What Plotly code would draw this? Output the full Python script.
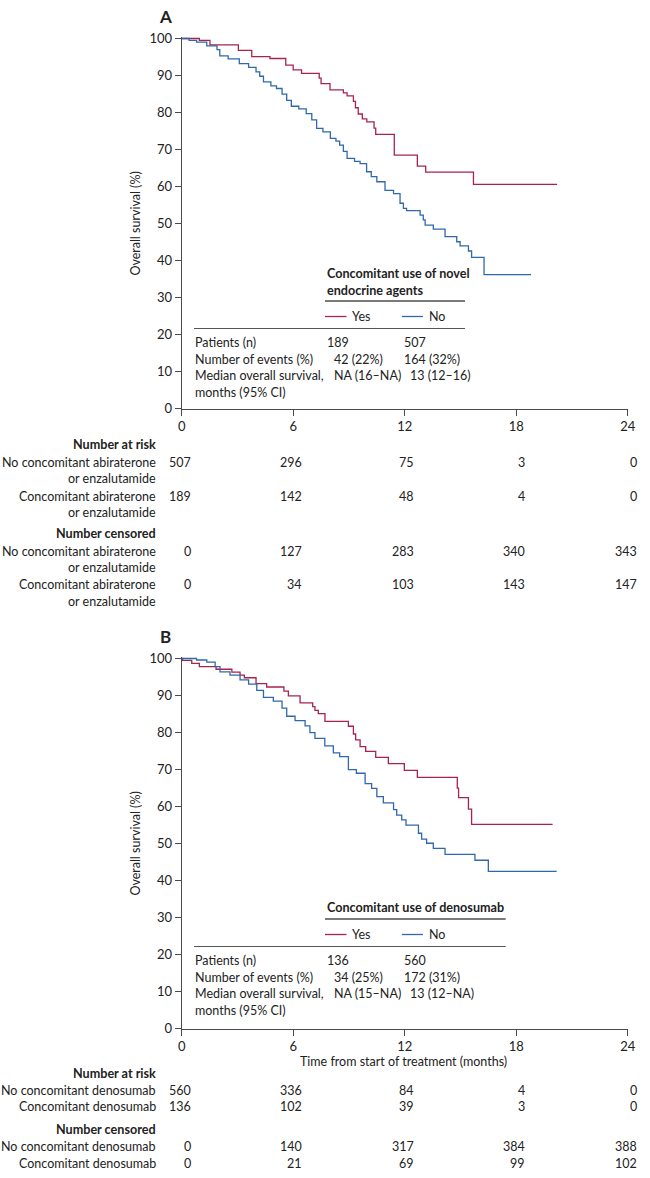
import plotly.graph_objects as go

W, H = 650, 1178
FONT = "Lato"
TXT = "#222222"
RED = "#a8234d"
BLUE = "#2f68ad"
FS = 12.5

# ---------------- data ----------------
tick_months = [0, 6, 12, 18, 24]
y_ticks = [0, 10, 20, 30, 40, 50, 60, 70, 80, 90, 100]

# Panel A
a_yes_t = [0, 0.95, 1.52, 3.05, 3.77, 4.75, 5.6, 6.0, 6.45, 7.4, 7.5, 7.98, 8.7, 8.9, 9.24, 9.35, 9.5,
           9.72, 9.96, 10.35, 10.44, 11.44, 12.68, 13.13, 15.7, 20.2]
a_yes_s = [100, 99.5, 98.3, 96.8, 95.1, 94.6, 92.8, 91.5, 90.6, 89.3, 87.8, 86.1, 85.3, 84.5, 83.0, 81.3,
           79.6, 78.3, 77.5, 75.8, 74.1, 68.5, 65.5, 63.9, 60.6, 60.6]
a_no_t = [0, 0.4, 0.8, 1.35, 1.9, 2.05, 2.5, 3.1, 3.6, 4.0, 4.2, 4.4, 4.8, 5.1, 5.4, 5.65, 5.9, 6.3, 6.7,
          7.0, 7.26, 7.6, 8.0, 8.3, 8.5, 8.7, 8.9, 9.3, 9.6, 9.95, 10.2, 10.5, 10.94, 11.4, 11.75, 11.93,
          12.1, 12.83, 13.0, 13.1, 13.54, 14.17, 14.8, 14.98, 15.43, 15.6, 16.27, 18.8]
a_no_s = [100, 99.5, 99, 98, 97, 95.3, 94.5, 93.2, 92.2, 91, 89.8, 88.3, 87.2, 86.5, 85, 83.3, 81.7, 81,
          79.7, 78, 75.7, 74.8, 73, 72.3, 71.2, 69.5, 67.6, 66.8, 66.2, 64, 62.7, 61.3, 59, 58.1, 55.5,
          54.1, 53.5, 52.3, 51.0, 49.6, 48.5, 46.5, 45.1, 44.0, 42.6, 40.9, 36.2, 36.2]

# Panel B
b_yes_t = [0, 0.05, 0.54, 0.95, 1.85, 2.7, 3.14, 3.37, 4.0, 4.57, 5.5, 5.74, 6.37, 7.05, 7.17, 7.35, 7.71,
           8.97, 9.24, 9.36, 9.6, 9.9, 10.44, 11.12, 11.98, 12.68, 14.83, 14.9, 15.43, 15.6, 19.96]
b_yes_s = [100, 99.5, 98.7, 97.8, 97.1, 96.3, 95.5, 94.8, 93.2, 92.3, 91.2, 89.9, 88.0, 87.0, 86.0, 85.1,
           83.0, 81.7, 79.6, 78.0, 76.2, 74.9, 73.3, 71.6, 69.8, 67.9, 65.0, 62.4, 59.3, 55.2, 55.2]
b_no_t = [0, 0.8, 1.35, 1.8, 2.06, 2.6, 3.14, 3.6, 4.04, 4.4, 4.93, 5.4, 5.65, 6.1, 6.64, 6.9, 7.17, 7.7,
          8.16, 8.5, 8.97, 9.4, 9.87, 10.22, 10.5, 10.85, 11.4, 11.57, 11.84, 12.07, 12.74, 12.91, 13.18,
          13.54, 14.17, 15.78, 16.5, 20.18]
b_no_s = [100, 99.6, 99, 97.8, 96.4, 95.5, 94.2, 93.1, 91.4, 89.5, 88.5, 86.6, 84.4, 83.2, 81.8, 80.0,
          78.4, 76.4, 74.5, 73.5, 70.0, 69.0, 66.2, 64.9, 62.7, 61.0, 59.2, 57.7, 56.4, 55.0, 52.8, 51.2,
          50.1, 48.7, 47.1, 45.5, 42.5, 42.5]

# risk tables
a_risk_no = [507, 296, 75, 3, 0]
a_risk_yes = [189, 142, 48, 4, 0]
a_cens_no = [0, 127, 283, 340, 343]
a_cens_yes = [0, 34, 103, 143, 147]
b_risk_no = [560, 336, 84, 4, 0]
b_risk_yes = [136, 102, 39, 3, 0]
b_cens_no = [0, 140, 317, 384, 388]
b_cens_yes = [0, 21, 69, 99, 102]

a_label_no = ["No concomitant abiraterone", "or enzalutamide"]
a_label_yes = ["Concomitant abiraterone", "or enzalutamide"]
b_label_no = ["No concomitant denosumab"]
b_label_yes = ["Concomitant denosumab"]

a_header = ["Concomitant use of novel", "endocrine agents"]
b_header = ["Concomitant use of denosumab"]
stat_labels = ["Patients (n)", "Number of events (%)", "Median overall survival,", "months (95% CI)"]
a_stats_yes = ["189", "42 (22%)", "NA (16–NA)"]
a_stats_no = ["507", "164 (32%)", "13 (12–16)"]
b_stats_yes = ["136", "34 (25%)", "NA (15–NA)"]
b_stats_no = ["560", "172 (31%)", "13 (12–NA)"]

# ---------------- helpers ----------------
def px(x):
    return x / W

def py(y):
    return 1 - y / H

X0, X1 = 181.7, 627.7
A_Y0, B_Y0 = 408.7, 1028.7
UNIT = 3.702
YTOP = 100.5

fig = go.Figure()

def add_curve(t, s, color, xa, ya):
    fig.add_trace(go.Scatter(x=t, y=s, mode="lines", line=dict(color=color, width=1.3, shape="hv"),
                             xaxis=xa, yaxis=ya, hoverinfo="skip"))

add_curve(a_yes_t, a_yes_s, RED, "x", "y")
add_curve(a_no_t, a_no_s, BLUE, "x", "y")
add_curve(b_yes_t, b_yes_s, RED, "x2", "y2")
add_curve(b_no_t, b_no_s, BLUE, "x2", "y2")

axis_common = dict(showline=True, linecolor="#4a4a4a", linewidth=1, ticks="outside", ticklen=6,
                   tickcolor="#4a4a4a", showgrid=False, zeroline=False, automargin=False,
                   tickfont=dict(family=FONT, size=13, color=TXT))

annotations = []
shapes = []

def text(x, y, s, anchor="left", size=FS, bold=False, xref="paper", xshift=0):
    annotations.append(dict(x=x if xref != "paper" else px(x), y=py(y), xref=xref, yref="paper",
                            text=f"<b>{s}</b>" if bold else s, showarrow=False,
                            xanchor=anchor, yanchor="middle", xshift=xshift,
                            font=dict(family=FONT, size=size, color=TXT)))

def hline(x0, x1, y, color, width):
    shapes.append(dict(type="line", xref="paper", yref="paper", x0=px(x0), x1=px(x1),
                       y0=py(y), y1=py(y), line=dict(color=color, width=width)))

def panel(letter, y0, header, header_y, rule_right, stats_yes, stats_no):
    top = y0 - 100 * UNIT
    text(165, top - 22, letter, anchor="center", size=17, bold=True)
    annotations.append(dict(x=px(136), y=py(y0 - 50 * UNIT), xref="paper", yref="paper",
                            text="Overall survival (%)", showarrow=False, textangle=-90,
                            xanchor="center", yanchor="middle",
                            font=dict(family=FONT, size=FS, color=TXT)))
    for i, h in enumerate(header):
        text(325, header_y + i * 17, h, bold=True, size=12.6)
    rule1 = header_y + (len(header) - 1) * 17 + 11
    hline(325, rule_right, rule1, "#7a7a7a", 2)
    leg_y = rule1 + 15.5
    hline(325, 346.5, leg_y, RED, 1.3)
    text(350, leg_y, "Yes")
    hline(402, 423, leg_y, BLUE, 1.3)
    text(427, leg_y, "No")
    rule2 = leg_y + 12
    hline(194, rule_right, rule2, "#555555", 1)
    for i, lab in enumerate(stat_labels):
        text(193, rule2 + 14 + i * 16.6, lab)
    for i in range(3):
        yy = rule2 + 14 + i * 16.6
        text(325 if i == 0 else 331.5, yy, stats_yes[i])
        text(401.5 if i < 2 else 408, yy, stats_no[i])

panel("A", A_Y0, a_header, 273, 465, a_stats_yes, a_stats_no)
panel("B", B_Y0, b_header, 908, 505.7, b_stats_yes, b_stats_no)

def table(xref, rows):
    for y, lines, vals, bold in rows:
        for j, ln in enumerate(lines):
            text(158, y + j * 16.5, ln, anchor="right", bold=bold, size=12.6 if bold else FS)
        if vals is not None:
            for m, v in zip(tick_months, vals):
                text(m, y, str(v), anchor="right", xref=xref, xshift=11)

table("x", [
    (444, ["Number at risk"], None, True),
    (462, a_label_no, a_risk_no, False),
    (496, a_label_yes, a_risk_yes, False),
    (534, ["Number censored"], None, True),
    (551, a_label_no, a_cens_no, False),
    (584.5, a_label_yes, a_cens_yes, False),
])

table("x2", [
    (1073, ["Number at risk"], None, True),
    (1090, b_label_no, b_risk_no, False),
    (1106.7, b_label_yes, b_risk_yes, False),
    (1129, ["Number censored"], None, True),
    (1146.7, b_label_no, b_cens_no, False),
    (1163.3, b_label_yes, b_cens_yes, False),
])

text(404, 1061, "Time from start of treatment (months)", anchor="center")

fig.update_layout(
    width=W, height=H, margin=dict(l=0, r=0, t=0, b=0, autoexpand=False),
    paper_bgcolor="white", plot_bgcolor="white", showlegend=False,
    xaxis=dict(domain=[px(X0), px(X1)], range=[0, 24], tickvals=tick_months, anchor="y", **axis_common),
    yaxis=dict(domain=[py(A_Y0), py(A_Y0 - YTOP * UNIT)], range=[0, YTOP], tickvals=y_ticks,
               anchor="x", **axis_common),
    xaxis2=dict(domain=[px(X0), px(X1)], range=[0, 24], tickvals=tick_months, anchor="y2", **axis_common),
    yaxis2=dict(domain=[py(B_Y0), py(B_Y0 - YTOP * UNIT)], range=[0, YTOP], tickvals=y_ticks,
                anchor="x2", **axis_common),
    annotations=annotations, shapes=shapes,
)

fig.write_html("out.html")
